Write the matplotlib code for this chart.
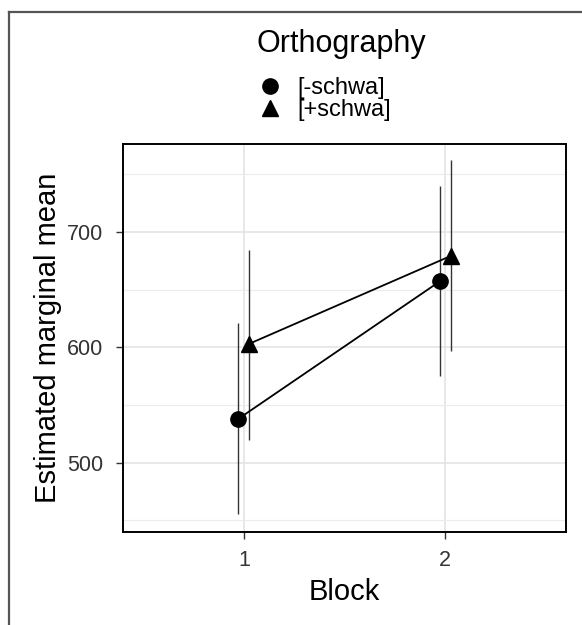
import matplotlib
matplotlib.use('Agg')
from matplotlib import pyplot as plt
from matplotlib.lines import Line2D
import numpy as np

plt.rcParams['font.family'] = ['Liberation Sans', 'DejaVu Sans']

blocks = [1, 2]
groups = ['[-schwa]', '[+schwa]']
markers = ['o', '^']
dodge = [-0.027, 0.027]

# estimated marginal means and CI limits per group, block 1 and 2
means = {'[-schwa]': [538, 657], '[+schwa]': [603, 679]}
lower = {'[-schwa]': [456, 575], '[+schwa]': [520, 597]}
upper = {'[-schwa]': [621, 740], '[+schwa]': [684, 762]}

fig = plt.figure(figsize=(5.82, 6.25), dpi=100)
ax = fig.add_axes([123 / 582, 1 - 532 / 625, 443 / 582, 388 / 625])

for g, m, d in zip(groups, markers, dodge):
	x = np.array(blocks) + d
	ax.vlines(x, lower[g], upper[g], color='#333333', lw=1.0, zorder=2)
	ax.plot(x, means[g], color='black', lw=1.3, zorder=3)
	ax.plot(x, means[g], ls='none', marker=m, color='black',
		ms=11 if m == 'o' else 12, zorder=4, label=g)

ax.set_xlim(0.4, 2.6)
ax.set_ylim(440, 776)
ax.set_xticks(blocks)
ax.set_xticklabels([str(b) for b in blocks])
ax.set_yticks([500, 600, 700])
ax.set_yticks([450, 550, 650, 750], minor=True)
ax.grid(True, which='major', color='#e2e2e2', lw=1.1, zorder=0)
ax.grid(True, which='minor', axis='y', color='#ececec', lw=0.8, zorder=0)
ax.set_axisbelow(True)
ax.tick_params(which='major', length=5, width=1, color='#333333',
	labelsize=15.5, labelcolor='#333333')
ax.tick_params(axis='y', pad=9)
ax.tick_params(axis='x', pad=8)
ax.tick_params(which='minor', length=0)
for s in ax.spines.values():
	s.set_color('black')
	s.set_linewidth(1.4)

ax.set_xlabel('Block', fontsize=21, labelpad=5)
ax.set_ylabel('Estimated marginal mean', fontsize=21, labelpad=4)

leg = fig.legend(loc='upper left', bbox_to_anchor=(257 / 582, 1 - 29 / 625),
	frameon=False, title='Orthography', fontsize=17, title_fontsize=22,
	alignment='left', handletextpad=0.6, labelspacing=0.0,
	handlelength=1.1, borderaxespad=0, borderpad=0)
leg._legend_box.sep = 13

# outer frame (top and left edge)
fig.add_artist(Line2D([8.5 / 582, 1], [1 - 11.5 / 625, 1 - 11.5 / 625],
	transform=fig.transFigure, color='#555555', lw=1.6))
fig.add_artist(Line2D([8.5 / 582, 8.5 / 582], [0, 1 - 11.5 / 625],
	transform=fig.transFigure, color='#555555', lw=1.6))

fig.savefig('out.png', dpi=100)
